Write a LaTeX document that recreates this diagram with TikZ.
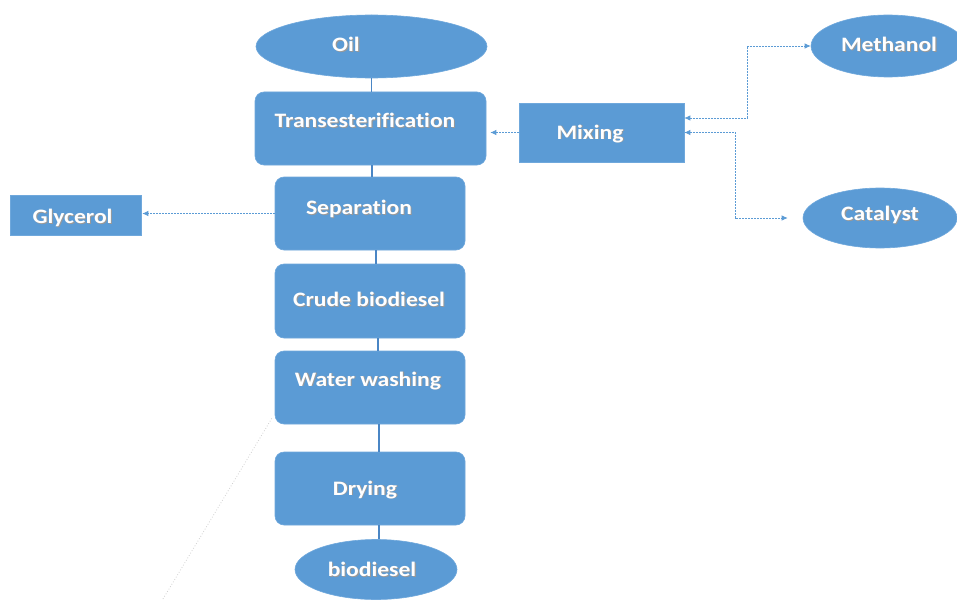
\documentclass[tikz,border=0pt]{standalone}
\usepackage{fontspec}
\setmainfont[Ligatures=NoCommon]{Carlito}
\usetikzlibrary{shapes.geometric,arrows.meta}
\definecolor{flowblue}{HTML}{5B9BD5}
\definecolor{linkblue}{HTML}{4A86C5}
\definecolor{edgeblue}{HTML}{6FA8DC}
% white label with a soft grey drop shadow, slightly widened
\newcommand{\shadowlabel}[1]{\scalebox{1.15}[1]{\makebox[0pt][l]{\kern0.9pt\raisebox{-0.9pt}{\color{black!40}#1}}#1}}
\begin{document}
\begin{tikzpicture}[x=1pt,y=-1pt,
  >={Latex[length=6pt,width=5.5pt]},
  stage/.style={draw=edgeblue, fill=flowblue, rounded corners=9pt, inner sep=0pt, line width=0.6pt},
  plainbox/.style={draw=edgeblue, fill=flowblue, inner sep=0pt, line width=0.6pt},
  blob/.style={ellipse, draw=edgeblue, fill=flowblue, inner sep=0pt, line width=0.6pt},
  txt/.style={text=white, font=\bfseries\fontsize{20.5}{24}\selectfont, inner sep=0pt},
  link/.style={draw=linkblue, line width=1.8pt},
  feed/.style={draw=flowblue, line width=0.8pt, dash pattern=on 2pt off 1pt},
]
\clip (0,0) rectangle (957,599);
\fill[white] (0,0) rectangle (957,599);

% main process column
\node[blob, minimum width=231pt, minimum height=63pt] (oil) at (371.5,46.5) {};
\node[stage, minimum width=231pt, minimum height=73pt] (trans) at (370.5,128.5) {};
\node[stage, minimum width=190pt, minimum height=73pt] (sep) at (370,213.5) {};
\node[stage, minimum width=190pt, minimum height=74pt] (crude) at (370,301) {};
\node[stage, minimum width=190pt, minimum height=73pt] (wash) at (370,387.5) {};
\node[stage, minimum width=190pt, minimum height=73pt] (dry) at (370,488.5) {};
\node[blob, minimum width=162pt, minimum height=60pt] (bio) at (376,569.5) {};

% side inputs and outputs
\node[plainbox, minimum width=165pt, minimum height=59pt] (mix) at (601.5,132.5) {};
\node[blob, minimum width=154pt, minimum height=62pt] (meth) at (888,46) {};
\node[blob, minimum width=154pt, minimum height=60pt] (cat) at (880,218) {};
\node[plainbox, minimum width=131pt, minimum height=40pt] (glyc) at (75.5,215) {};

% labels
\node[txt] (oil-t) at (346,45) {\shadowlabel{Oil}};
\node[txt] (trans-t) at (365,121) {\shadowlabel{Transesterification}};
\node[txt] (sep-t) at (359,209) {\shadowlabel{Separation}};
\node[txt] (crude-t) at (369,300) {\shadowlabel{Crude biodiesel}};
\node[txt] (wash-t) at (368,381) {\shadowlabel{Water washing}};
\node[txt] (dry-t) at (365,490) {\shadowlabel{Drying}};
\node[txt] (bio-t) at (372,570) {\shadowlabel{biodiesel}};
\node[txt] (mix-t) at (590,134) {\shadowlabel{Mixing}};
\node[txt] (meth-t) at (889,45) {\shadowlabel{Methanol}};
\node[txt] (cat-t) at (880,215) {\shadowlabel{Catalyst}};
\node[txt] (glyc-t) at (72.5,218) {\shadowlabel{Glycerol}};

% solid links down the column
\draw[link] (oil.south) -- (oil.south |- trans.north);
\draw[link] ([xshift=1.5pt]trans.south) -- ([xshift=1.5pt]trans.south |- sep.north);
\draw[link] ([xshift=6pt]sep.south) -- ([xshift=6pt]crude.north);
\draw[link] ([xshift=8pt]crude.south) -- ([xshift=8pt]wash.north);
\draw[link] ([xshift=9pt]wash.south) -- ([xshift=9pt]dry.north);
\draw[link] ([xshift=9pt]dry.south) -- ([xshift=3pt]bio.north);

% dotted feed arrows
\draw[feed, ->, shorten >=4pt] (mix.west) -- (mix.west -| trans.east);
\draw[feed, ->, shorten >=1pt] (sep.west) -- (sep.west -| glyc.east);
\draw[feed, <->] ([yshift=14.5pt]mix.east) -- ++(63,0) |- (meth.west);
\draw[feed, <->, shorten >=15pt] (mix.east) -- ++(51,0) |- (cat.west);

% faint stray dotted stroke
\coordinate (stray-a) at (163,599);
\coordinate (stray-b) at (272,418);
\draw[black!18, dotted, line width=0.8pt] (stray-a) -- (stray-b);
\end{tikzpicture}
\end{document}
